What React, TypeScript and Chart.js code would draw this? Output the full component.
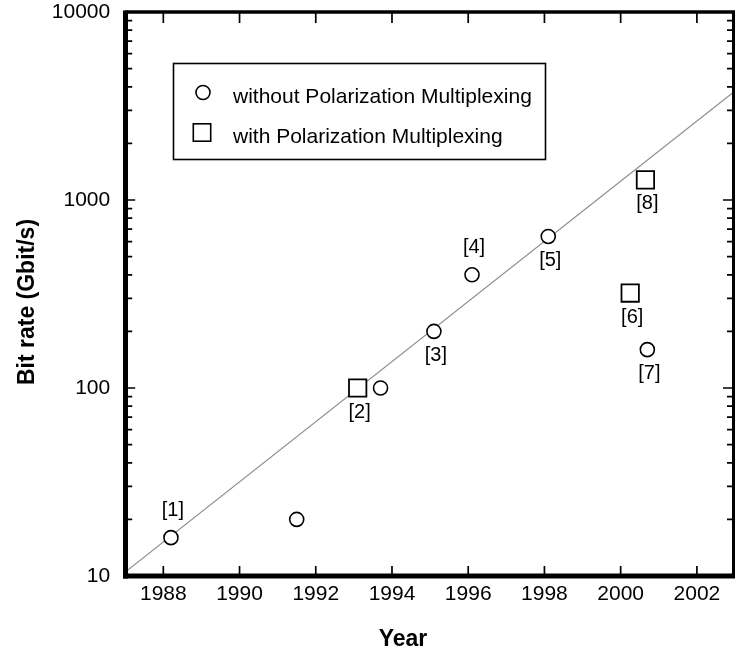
import { useEffect, useRef } from 'react';
import { Chart, registerables } from 'chart.js';

Chart.register(...registerables);

// Axis ticks
const yearTicks = [1988, 1990, 1992, 1994, 1996, 1998, 2000, 2002];
const rateTicks = [10, 100, 1000, 10000];

// Experiments without polarization multiplexing
const plainYears = [1988.2, 1991.5, 1993.7, 1995.1, 1996.1, 1998.1, 2000.7];
const plainRates = [16, 20, 100, 200, 400, 640, 160];
const plainRefs = ['[1]', '', '', '[3]', '[4]', '[5]', '[7]'];

// Experiments with polarization multiplexing
const polYears = [1993.1, 2000.25, 2000.65];
const polRates = [100, 320, 1280];
const polRefs = ['[2]', '[6]', '[8]'];

// References whose tag sits above the marker
const refsAbove = ['[1]', '[4]'];

// Trend line
const trendYears = [1987, 2003];
const trendRates = [10.5, 3800];

const plainLabel = 'without Polarization Multiplexing';
const polLabel = 'with Polarization Multiplexing';

const FONT = '"Liberation Sans", Arial, Helvetica, sans-serif';
const CIRCLE_R = 7;
const SQUARE_R = 12.3;

const toPoints = (xs: number[], ys: number[]) => xs.map((x, i) => ({ x, y: ys[i] }));

const framePlugin = {
  id: 'frame',
  afterDatasetsDraw(chart: any) {
    const { ctx, chartArea: a } = chart;
    const x = chart.scales.x;
    const y = chart.scales.y;
    ctx.save();
    ctx.strokeStyle = '#000';
    ctx.fillStyle = '#000';
    ctx.lineCap = 'butt';

    // inward tick marks
    ctx.lineWidth = 1.7;
    ctx.beginPath();
    for (const yr of yearTicks) {
      const px = x.getPixelForValue(yr);
      ctx.moveTo(px, a.bottom);
      ctx.lineTo(px, a.bottom - 10);
      ctx.moveTo(px, a.top);
      ctx.lineTo(px, a.top + 11);
    }
    for (let d = 10; d < 10000; d *= 10) {
      for (let m = 1; m <= 9; m++) {
        const py = y.getPixelForValue(d * m);
        const major = m === 1;
        ctx.moveTo(a.left, py);
        ctx.lineTo(a.left + (major ? 10 : 7), py);
        ctx.moveTo(a.right - 1.5, py);
        ctx.lineTo(a.right - (major ? 12 : 8), py);
      }
    }
    ctx.stroke();

    // frame
    ctx.lineWidth = 5;
    ctx.beginPath();
    ctx.moveTo(a.left + 0.3, a.top - 1.5);
    ctx.lineTo(a.left + 0.3, a.bottom + 2.5);
    ctx.stroke();
    ctx.beginPath();
    ctx.moveTo(a.left - 2.2, a.bottom);
    ctx.lineTo(a.right, a.bottom);
    ctx.stroke();
    ctx.lineWidth = 3.3;
    ctx.beginPath();
    ctx.moveTo(a.left, a.top);
    ctx.lineTo(a.right, a.top);
    ctx.stroke();
    ctx.lineWidth = 3;
    ctx.beginPath();
    ctx.moveTo(a.right - 1.5, a.top);
    ctx.lineTo(a.right - 1.5, a.bottom);
    ctx.stroke();

    // reference tags
    ctx.font = `20px ${FONT}`;
    ctx.textAlign = 'center';
    ctx.textBaseline = 'middle';
    const tagSets: [number, string[]][] = [
      [0, plainRefs],
      [1, polRefs],
    ];
    for (const [di, refs] of tagSets) {
      const meta = chart.getDatasetMeta(di);
      meta.data.forEach((el: any, i: number) => {
        const tag = refs[i];
        if (!tag) return;
        const above = refsAbove.includes(tag);
        ctx.fillText(tag, el.x + 2, el.y + (above ? -27 : 24));
      });
    }

    // legend
    ctx.lineWidth = 1.6;
    ctx.strokeRect(173.5, 63.5, 372, 96);
    ctx.beginPath();
    ctx.arc(203, 92.5, CIRCLE_R, 0, Math.PI * 2);
    ctx.stroke();
    const half = SQUARE_R * Math.SQRT1_2;
    ctx.strokeRect(202 - half, 132.5 - half, half * 2, half * 2);
    ctx.font = `21px ${FONT}`;
    ctx.textAlign = 'left';
    ctx.textBaseline = 'alphabetic';
    ctx.fillText(plainLabel, 233, 103);
    ctx.fillText(polLabel, 233, 143);

    // axis titles
    ctx.font = `bold 23px ${FONT}`;
    ctx.textAlign = 'center';
    ctx.fillText('Year', 403, 646);
    ctx.translate(34, 302);
    ctx.rotate(-Math.PI / 2);
    ctx.fillText('Bit rate (Gbit/s)', 0, 0);
    ctx.restore();
  },
};

const noPadding = (s: any) => {
  s.paddingLeft = 0;
  s.paddingRight = 0;
  s.paddingTop = 0;
  s.paddingBottom = 0;
};

export default function App() {
  const canvasRef = useRef<HTMLCanvasElement | null>(null);

  useEffect(() => {
    const canvas = canvasRef.current;
    if (!canvas) return;
    const tickFont = { family: FONT, size: 21, lineHeight: 1 };
    const chart = new Chart(canvas, {
      type: 'scatter',
      data: {
        datasets: [
          {
            label: plainLabel,
            data: toPoints(plainYears, plainRates),
            pointStyle: 'circle',
            pointRadius: CIRCLE_R,
            pointBorderWidth: 1.6,
            borderColor: '#000',
            backgroundColor: '#fff',
          },
          {
            label: polLabel,
            data: toPoints(polYears, polRates),
            pointStyle: 'rect',
            pointRadius: SQUARE_R,
            pointBorderWidth: 1.8,
            borderColor: '#000',
            backgroundColor: '#fff',
          },
          {
            label: 'trend',
            data: toPoints(trendYears, trendRates),
            showLine: true,
            borderColor: '#8c8c8c',
            borderWidth: 1.1,
            pointRadius: 0,
          },
        ],
      },
      options: {
        animation: false,
        responsive: false,
        maintainAspectRatio: false,
        layout: { autoPadding: false, padding: { top: 12, left: 0, right: 0, bottom: 0 } },
        plugins: {
          legend: { display: false },
          tooltip: { enabled: false },
        },
        scales: {
          x: {
            type: 'linear',
            min: 1987,
            max: 2003,
            afterBuildTicks: (s: any) => {
              s.ticks = yearTicks.map((v) => ({ value: v }));
            },
            afterFit: (s: any) => {
              s.height = 76;
              noPadding(s);
            },
            grid: { display: false, drawTicks: false },
            border: { display: false },
            ticks: {
              color: '#000',
              font: tickFont,
              padding: 8,
              maxRotation: 0,
              autoSkip: false,
              callback: (v: any) => String(v),
            },
          },
          y: {
            type: 'logarithmic',
            min: 10,
            max: 10000,
            afterBuildTicks: (s: any) => {
              s.ticks = rateTicks.map((v) => ({ value: v }));
            },
            afterFit: (s: any) => {
              s.width = 125.2;
              noPadding(s);
            },
            grid: { display: false, drawTicks: false },
            border: { display: false },
            ticks: {
              color: '#000',
              font: tickFont,
              padding: 15,
              autoSkip: false,
              callback: (v: any) => String(v),
            },
          },
        },
      },
      plugins: [framePlugin],
    });
    return () => chart.destroy();
  }, []);

  return (
    <div style={{ position: 'fixed', left: 0, top: 0, width: 735, height: 652, background: '#fff' }}>
      <canvas ref={canvasRef} width={735} height={652} style={{ display: 'block', width: 735, height: 652 }} />
    </div>
  );
}
